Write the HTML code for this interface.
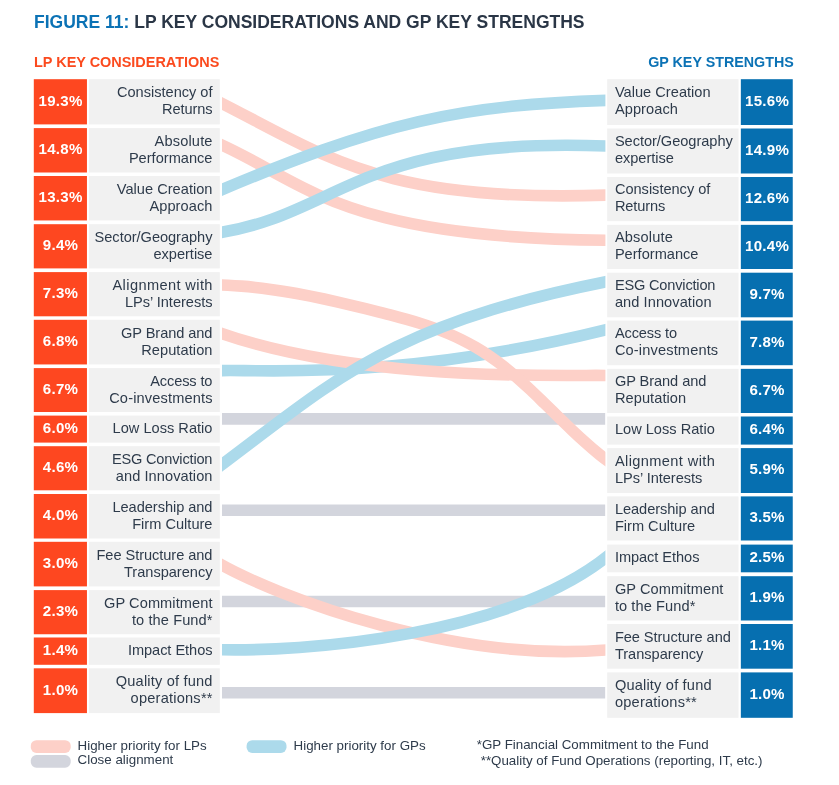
<!DOCTYPE html>
<html><head><meta charset="utf-8"><title>Figure 11</title>
<style>
html,body{margin:0;padding:0;background:#fff}
body{width:839px;height:785px;position:relative;overflow:hidden;font-family:"Liberation Sans",sans-serif;color:#2e3b4b}
div{position:absolute;box-sizing:border-box}
.title{left:34px;top:11.7px;font-size:17.53px;font-weight:bold;white-space:nowrap;color:#2a3646}
.title b{color:#0b72b5}
.hl{left:34px;top:54.3px;font-size:14.45px;font-weight:bold;color:#fb4a1e;white-space:nowrap}
.hr{right:45.2px;top:54.4px;font-size:14.3px;font-weight:bold;color:#0b72b5;white-space:nowrap}
.pl,.pr{color:#fff;font-weight:bold;font-size:15.1px;letter-spacing:0.25px;display:flex;align-items:center;justify-content:center}
.pl{left:33.8px;width:53.1px}
.pr{left:741px;width:51.8px}
.tl,.tr{font-size:14.6px;line-height:17px;display:flex;align-items:center;white-space:nowrap}
.tl{left:88.9px;width:130.9px;justify-content:flex-end;text-align:right;padding-right:7.3px}
.tr{left:607.2px;width:131.3px;justify-content:flex-start;text-align:left;padding-left:7.7px}
.tl span{display:block;position:relative;top:-0.3px}
.tr span{display:block;position:relative;top:-0.8px}
.pl span,.pr span{display:block;position:relative;top:-1.6px;left:0.2px}
svg{position:absolute;left:0;top:0}
i{display:block;font-style:normal}
.lg{font-size:13.35px;white-space:nowrap;line-height:15px}
</style></head><body>
<svg width="839" height="785" viewBox="0 0 839 785"><defs><clipPath id="c"><rect x="222" y="60" width="383.4" height="680"/></clipPath></defs>
<g>
<rect x="33.8" y="79.2" width="53.15" height="45.20" fill="#fe4720"/><rect x="88.95" y="79.2" width="130.85" height="45.20" fill="#f1f1f1"/>
<rect x="33.8" y="128.1" width="53.15" height="44.40" fill="#fe4720"/><rect x="88.95" y="128.1" width="130.85" height="44.40" fill="#f1f1f1"/>
<rect x="33.8" y="176.0" width="53.15" height="44.45" fill="#fe4720"/><rect x="88.95" y="176.0" width="130.85" height="44.45" fill="#f1f1f1"/>
<rect x="33.8" y="224.2" width="53.15" height="44.20" fill="#fe4720"/><rect x="88.95" y="224.2" width="130.85" height="44.20" fill="#f1f1f1"/>
<rect x="33.8" y="272.1" width="53.15" height="44.20" fill="#fe4720"/><rect x="88.95" y="272.1" width="130.85" height="44.20" fill="#f1f1f1"/>
<rect x="33.8" y="319.8" width="53.15" height="44.65" fill="#fe4720"/><rect x="88.95" y="319.8" width="130.85" height="44.65" fill="#f1f1f1"/>
<rect x="33.8" y="368.1" width="53.15" height="43.90" fill="#fe4720"/><rect x="88.95" y="368.1" width="130.85" height="43.90" fill="#f1f1f1"/>
<rect x="33.8" y="415.6" width="53.15" height="27.00" fill="#fe4720"/><rect x="88.95" y="415.6" width="130.85" height="27.00" fill="#f1f1f1"/>
<rect x="33.8" y="446.2" width="53.15" height="44.10" fill="#fe4720"/><rect x="88.95" y="446.2" width="130.85" height="44.10" fill="#f1f1f1"/>
<rect x="33.8" y="494.0" width="53.15" height="44.50" fill="#fe4720"/><rect x="88.95" y="494.0" width="130.85" height="44.50" fill="#f1f1f1"/>
<rect x="33.8" y="541.8" width="53.15" height="44.60" fill="#fe4720"/><rect x="88.95" y="541.8" width="130.85" height="44.60" fill="#f1f1f1"/>
<rect x="33.8" y="590.1" width="53.15" height="44.15" fill="#fe4720"/><rect x="88.95" y="590.1" width="130.85" height="44.15" fill="#f1f1f1"/>
<rect x="33.8" y="637.5" width="53.15" height="27.30" fill="#fe4720"/><rect x="88.95" y="637.5" width="130.85" height="27.30" fill="#f1f1f1"/>
<rect x="33.8" y="668.3" width="53.15" height="44.80" fill="#fe4720"/><rect x="88.95" y="668.3" width="130.85" height="44.80" fill="#f1f1f1"/>
<rect x="607.2" y="79.2" width="131.35" height="45.80" fill="#f1f1f1"/><rect x="740.85" y="79.2" width="51.90" height="45.80" fill="#066fb0"/>
<rect x="607.2" y="128.5" width="131.35" height="45.00" fill="#f1f1f1"/><rect x="740.85" y="128.5" width="51.90" height="45.00" fill="#066fb0"/>
<rect x="607.2" y="177.0" width="131.35" height="44.15" fill="#f1f1f1"/><rect x="740.85" y="177.0" width="51.90" height="44.15" fill="#066fb0"/>
<rect x="607.2" y="224.85" width="131.35" height="44.15" fill="#f1f1f1"/><rect x="740.85" y="224.85" width="51.90" height="44.15" fill="#066fb0"/>
<rect x="607.2" y="272.7" width="131.35" height="44.60" fill="#f1f1f1"/><rect x="740.85" y="272.7" width="51.90" height="44.60" fill="#066fb0"/>
<rect x="607.2" y="320.6" width="131.35" height="44.60" fill="#f1f1f1"/><rect x="740.85" y="320.6" width="51.90" height="44.60" fill="#066fb0"/>
<rect x="607.2" y="368.85" width="131.35" height="44.15" fill="#f1f1f1"/><rect x="740.85" y="368.85" width="51.90" height="44.15" fill="#066fb0"/>
<rect x="607.2" y="416.5" width="131.35" height="28.10" fill="#f1f1f1"/><rect x="740.85" y="416.5" width="51.90" height="28.10" fill="#066fb0"/>
<rect x="607.2" y="448.1" width="131.35" height="44.90" fill="#f1f1f1"/><rect x="740.85" y="448.1" width="51.90" height="44.90" fill="#066fb0"/>
<rect x="607.2" y="496.4" width="131.35" height="44.10" fill="#f1f1f1"/><rect x="740.85" y="496.4" width="51.90" height="44.10" fill="#066fb0"/>
<rect x="607.2" y="544.6" width="131.35" height="27.70" fill="#f1f1f1"/><rect x="740.85" y="544.6" width="51.90" height="27.70" fill="#066fb0"/>
<rect x="607.2" y="576.2" width="131.35" height="44.30" fill="#f1f1f1"/><rect x="740.85" y="576.2" width="51.90" height="44.30" fill="#066fb0"/>
<rect x="607.2" y="624.0" width="131.35" height="44.70" fill="#f1f1f1"/><rect x="740.85" y="624.0" width="51.90" height="44.70" fill="#066fb0"/>
<rect x="607.2" y="672.4" width="131.35" height="45.40" fill="#f1f1f1"/><rect x="740.85" y="672.4" width="51.90" height="45.40" fill="#066fb0"/>
<rect x="30.8" y="740.2" width="39.9" height="12.7" rx="5.6" fill="#fdd0c8"/><rect x="30.8" y="755" width="39.9" height="12.7" rx="5.6" fill="#d3d5dd"/><rect x="246.6" y="740.2" width="39.9" height="12.7" rx="5.6" fill="#acdaeb"/>
</g>
<g clip-path="url(#c)" fill="none" stroke-width="11.6">
<path d="M222,418.9L605.4,418.9" stroke="#d3d5dd"/>
<path d="M222,510.3L605.4,510.3" stroke="#d3d5dd"/>
<path d="M222,601.5L605.4,601.5" stroke="#d3d5dd"/>
<path d="M222,692.7L605.4,692.7" stroke="#d3d5dd"/>
<path d="M212.39,98.58 C327.14,155.92 382.36,205.72 625.61,194.36" stroke="#fdd0c8"/>
<path d="M214.46,141.79 C304.89,180.28 336.05,241.32 629.71,240.35" stroke="#fdd0c8"/>
<path d="M207.41,195.85 C381.91,121.08 459.38,104.43 618.74,99.95" stroke="#acdaeb"/>
<path d="M211.10,233.91 C342.76,216.35 353.51,131.69 628.09,147.11" stroke="#acdaeb"/>
<path d="M220.07,370.81 C238.98,367.78 392.89,385.20 624.91,324.88" stroke="#acdaeb"/>
<path d="M209.19,328.84 C357.74,385.93 592.89,373.80 607.13,375.60" stroke="#fdd0c8"/>
<path d="M214.0,284.76C218.6,284.83 223.2,284.98 227.8,285.21C232.4,285.43 237.0,285.73 241.5,286.11C246.1,286.48 250.7,286.92 255.3,287.43C259.9,287.93 264.5,288.50 269.1,289.13C273.7,289.76 278.3,290.44 282.9,291.18C287.5,291.92 292.0,292.71 296.6,293.54C301.2,294.38 305.8,295.25 310.4,296.17C315.0,297.09 319.6,298.05 324.2,299.04C328.8,300.03 333.4,301.05 338.0,302.10C342.5,303.15 347.1,304.23 351.7,305.32C356.3,306.42 360.9,307.54 365.5,308.67C370.1,309.80 374.7,310.95 379.3,312.10C383.9,313.25 388.5,314.41 393.0,315.61C397.6,316.80 402.2,318.03 406.8,319.33C411.4,320.62 416.0,321.98 420.6,323.44C425.2,324.89 429.8,326.43 434.4,328.10C438.9,329.77 443.5,331.57 448.1,333.51C452.7,335.45 457.3,337.55 461.9,339.83C466.5,342.11 471.1,344.56 475.7,347.23C480.3,349.90 484.9,352.78 489.4,355.90C494.0,359.02 498.6,362.38 503.2,366.01C507.8,369.63 512.4,373.50 517.0,377.54C521.6,381.59 526.2,385.81 530.8,390.14C535.4,394.47 539.9,398.91 544.5,403.39C549.1,407.87 553.7,412.38 558.3,416.87C562.9,421.36 567.5,425.82 572.1,430.18C576.7,434.54 581.3,438.80 585.9,442.90C590.4,446.99 595.0,450.92 599.6,454.61C604.2,458.30 608.8,461.76 613.4,464.91" stroke="#fdd0c8"/>
<path d="M211.64,472.29 C335.60,380.14 388.29,322.58 625.07,278.08" stroke="#acdaeb"/>
<path d="M216.73,562.21 C275.33,596.18 459.48,666.52 619.00,648.69" stroke="#fdd0c8"/>
<path d="M214.38,649.61 C300.60,652.29 513.80,637.37 614.19,550.72" stroke="#acdaeb"/>
</g></svg>
<div class="title"><b>FIGURE 11:</b> LP KEY CONSIDERATIONS AND GP KEY STRENGTHS</div>
<div class="hl">LP KEY CONSIDERATIONS</div>
<div class="hr">GP KEY STRENGTHS</div>
<div class="pl" style="top:79.2px;height:45.2px"><span>19.3%</span></div><div class="tl" style="top:79.2px;height:45.2px"><span><i style="letter-spacing:-0.017px;margin-right:0.017px">Consistency of</i><i style="letter-spacing:-0.102px;margin-right:0.102px">Returns</i></span></div>
<div class="pl" style="top:128.1px;height:44.4px"><span>14.8%</span></div><div class="tl" style="top:128.1px;height:44.4px"><span><i style="letter-spacing:0.158px;margin-right:-0.158px">Absolute</i><i style="letter-spacing:0.005px;margin-right:-0.005px">Performance</i></span></div>
<div class="pl" style="top:176.0px;height:44.4px"><span>13.3%</span></div><div class="tl" style="top:176.0px;height:44.4px"><span><i style="letter-spacing:0.022px;margin-right:-0.022px">Value Creation</i><i style="letter-spacing:0.088px;margin-right:-0.088px">Approach</i></span></div>
<div class="pl" style="top:224.2px;height:44.2px"><span>9.4%</span></div><div class="tl" style="top:224.2px;height:44.2px"><span><i style="letter-spacing:-0.037px;margin-right:0.037px">Sector/Geography</i><i style="letter-spacing:-0.027px;margin-right:0.027px">expertise</i></span></div>
<div class="pl" style="top:272.1px;height:44.2px"><span>7.3%</span></div><div class="tl" style="top:272.1px;height:44.2px"><span><i style="letter-spacing:0.392px;margin-right:-0.392px">Alignment with</i><i style="letter-spacing:-0.029px;margin-right:0.029px">LPs’ Interests</i></span></div>
<div class="pl" style="top:319.8px;height:44.6px"><span>6.8%</span></div><div class="tl" style="top:319.8px;height:44.6px"><span><i style="letter-spacing:-0.067px;margin-right:0.067px">GP Brand and</i><i style="letter-spacing:0.078px;margin-right:-0.078px">Reputation</i></span></div>
<div class="pl" style="top:368.1px;height:43.9px"><span>6.7%</span></div><div class="tl" style="top:368.1px;height:43.9px"><span><i style="letter-spacing:-0.121px;margin-right:0.121px">Access to</i><i style="letter-spacing:0.147px;margin-right:-0.147px">Co-investments</i></span></div>
<div class="pl" style="top:415.6px;height:27.0px"><span>6.0%</span></div><div class="tl" style="top:415.6px;height:27.0px"><span><i style="letter-spacing:0.009px;margin-right:-0.009px">Low Loss Ratio</i></span></div>
<div class="pl" style="top:446.2px;height:44.1px"><span>4.6%</span></div><div class="tl" style="top:446.2px;height:44.1px"><span><i style="letter-spacing:-0.186px;margin-right:0.186px">ESG Conviction</i><i style="letter-spacing:0.072px;margin-right:-0.072px">and Innovation</i></span></div>
<div class="pl" style="top:494.0px;height:44.5px"><span>4.0%</span></div><div class="tl" style="top:494.0px;height:44.5px"><span><i style="letter-spacing:-0.048px;margin-right:0.048px">Leadership and</i><i style="letter-spacing:0.002px;margin-right:-0.002px">Firm Culture</i></span></div>
<div class="pl" style="top:541.8px;height:44.6px"><span>3.0%</span></div><div class="tl" style="top:541.8px;height:44.6px"><span><i style="letter-spacing:-0.052px;margin-right:0.052px">Fee Structure and</i><i style="letter-spacing:-0.017px;margin-right:0.017px">Transparency</i></span></div>
<div class="pl" style="top:590.1px;height:44.1px"><span>2.3%</span></div><div class="tl" style="top:590.1px;height:44.1px"><span><i style="letter-spacing:0.076px;margin-right:-0.076px">GP Commitment</i><i style="letter-spacing:0.089px;margin-right:-0.089px">to the Fund*</i></span></div>
<div class="pl" style="top:637.5px;height:27.3px"><span>1.4%</span></div><div class="tl" style="top:637.5px;height:27.3px"><span><i style="letter-spacing:-0.052px;margin-right:0.052px">Impact Ethos</i></span></div>
<div class="pl" style="top:668.3px;height:44.8px"><span>1.0%</span></div><div class="tl" style="top:668.3px;height:44.8px"><span><i style="letter-spacing:0.185px;margin-right:-0.185px">Quality of fund</i><i style="letter-spacing:0.217px;margin-right:-0.217px">operations**</i></span></div>
<div class="pr" style="top:79.2px;height:45.8px"><span>15.6%</span></div><div class="tr" style="top:79.2px;height:45.8px"><span><i style="letter-spacing:0.022px;">Value Creation</i><i style="letter-spacing:0.088px;">Approach</i></span></div>
<div class="pr" style="top:128.5px;height:45.0px"><span>14.9%</span></div><div class="tr" style="top:128.5px;height:45.0px"><span><i style="letter-spacing:-0.037px;">Sector/Geography</i><i style="letter-spacing:-0.027px;">expertise</i></span></div>
<div class="pr" style="top:177.0px;height:44.2px"><span>12.6%</span></div><div class="tr" style="top:177.0px;height:44.2px"><span><i style="letter-spacing:-0.017px;">Consistency of</i><i style="letter-spacing:-0.102px;">Returns</i></span></div>
<div class="pr" style="top:224.85px;height:44.2px"><span>10.4%</span></div><div class="tr" style="top:224.85px;height:44.2px"><span><i style="letter-spacing:0.158px;">Absolute</i><i style="letter-spacing:0.005px;">Performance</i></span></div>
<div class="pr" style="top:272.7px;height:44.6px"><span>9.7%</span></div><div class="tr" style="top:272.7px;height:44.6px"><span><i style="letter-spacing:-0.186px;">ESG Conviction</i><i style="letter-spacing:0.072px;">and Innovation</i></span></div>
<div class="pr" style="top:320.6px;height:44.6px"><span>7.8%</span></div><div class="tr" style="top:320.6px;height:44.6px"><span><i style="letter-spacing:-0.121px;">Access to</i><i style="letter-spacing:0.147px;">Co-investments</i></span></div>
<div class="pr" style="top:368.85px;height:44.1px"><span>6.7%</span></div><div class="tr" style="top:368.85px;height:44.1px"><span><i style="letter-spacing:-0.067px;">GP Brand and</i><i style="letter-spacing:0.078px;">Reputation</i></span></div>
<div class="pr" style="top:416.5px;height:28.1px"><span>6.4%</span></div><div class="tr" style="top:416.5px;height:28.1px"><span><i style="letter-spacing:0.009px;">Low Loss Ratio</i></span></div>
<div class="pr" style="top:448.1px;height:44.9px"><span>5.9%</span></div><div class="tr" style="top:448.1px;height:44.9px"><span><i style="letter-spacing:0.392px;">Alignment with</i><i style="letter-spacing:-0.029px;">LPs’ Interests</i></span></div>
<div class="pr" style="top:496.4px;height:44.1px"><span>3.5%</span></div><div class="tr" style="top:496.4px;height:44.1px"><span><i style="letter-spacing:-0.048px;">Leadership and</i><i style="letter-spacing:0.002px;">Firm Culture</i></span></div>
<div class="pr" style="top:544.6px;height:27.7px"><span>2.5%</span></div><div class="tr" style="top:544.6px;height:27.7px"><span><i style="letter-spacing:-0.052px;">Impact Ethos</i></span></div>
<div class="pr" style="top:576.2px;height:44.3px"><span>1.9%</span></div><div class="tr" style="top:576.2px;height:44.3px"><span><i style="letter-spacing:0.076px;">GP Commitment</i><i style="letter-spacing:0.089px;">to the Fund*</i></span></div>
<div class="pr" style="top:624.0px;height:44.7px"><span>1.1%</span></div><div class="tr" style="top:624.0px;height:44.7px"><span><i style="letter-spacing:-0.052px;">Fee Structure and</i><i style="letter-spacing:-0.017px;">Transparency</i></span></div>
<div class="pr" style="top:672.4px;height:45.4px"><span>1.0%</span></div><div class="tr" style="top:672.4px;height:45.4px"><span><i style="letter-spacing:0.185px;">Quality of fund</i><i style="letter-spacing:0.217px;">operations**</i></span></div>
<div class="lg" style="left:77.6px;top:737.8px">Higher priority for LPs</div>
<div class="lg" style="left:77.6px;top:752.1px">Close alignment</div>
<div class="lg" style="left:293.6px;top:737.8px">Higher priority for GPs</div>
<div class="lg" style="left:476.7px;top:737px">*GP Financial Commitment to the Fund</div>
<div class="lg" style="left:480.7px;top:753.2px">**Quality of Fund Operations (reporting, IT, etc.)</div>
</body></html>
